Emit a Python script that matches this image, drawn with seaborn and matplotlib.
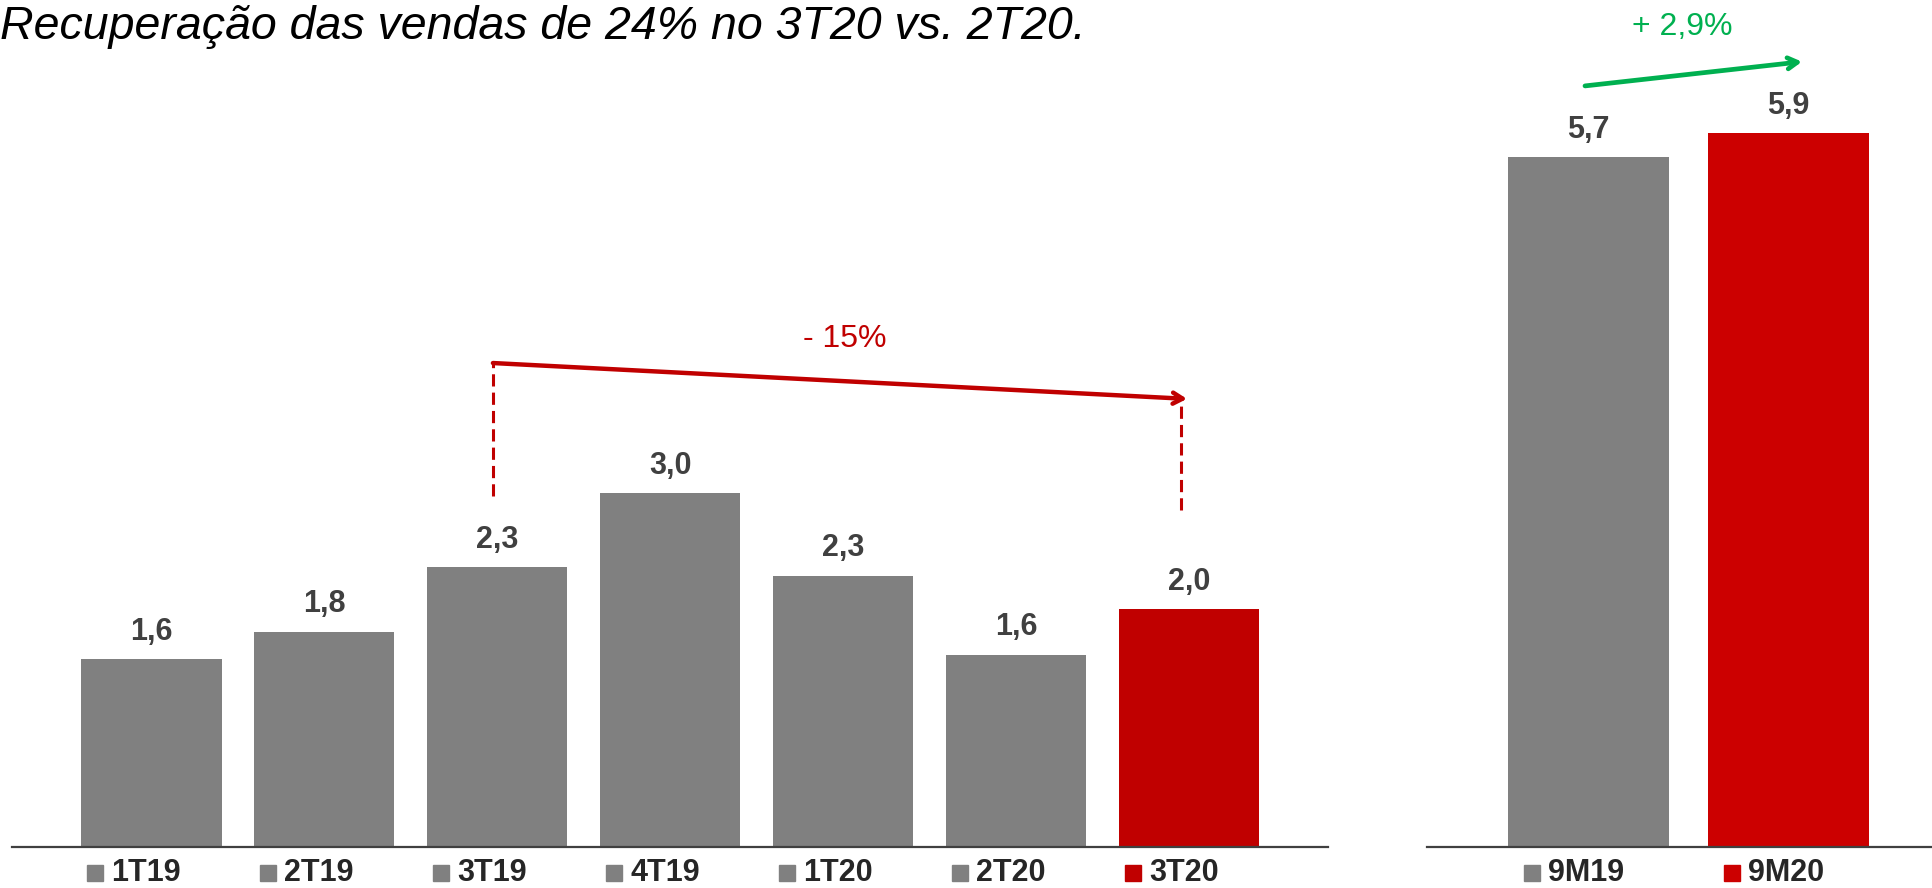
import pandas as pd
import seaborn as sns
import matplotlib.pyplot as plt
from matplotlib.transforms import ScaledTranslation

# Quarterly sales (left panel) and year-to-date sales (right panel)
quarters = ['1T19', '2T19', '3T19', '4T19', '1T20', '2T20', '3T20']
quarter_sales = [1.57, 1.80, 2.34, 2.96, 2.27, 1.61, 1.99]
quarter_colors = ['#808080'] * 6 + ['#C00000']

periods = ['9M19', '9M20']
period_sales = [5.7, 5.9]
period_colors = ['#808080', '#CC0000']

title = 'Recuperação das vendas de 24% no 3T20 vs. 2T20.'
quarter_change = '- 15%'
period_change = '+ 2,9%'

sns.set_style('white')
plt.rcParams['font.family'] = ['Liberation Sans', 'DejaVu Sans']

fig = plt.figure(figsize=(19.32, 8.88), dpi=100)
W, H = 1932, 888
ax1 = fig.add_axes([12 / W, 41 / H, 1316 / W, 847 / H])
ax2 = fig.add_axes([1427 / W, 41 / H, 505 / W, 847 / H])

df_q = pd.DataFrame({'periodo': quarters, 'vendas': quarter_sales})
df_p = pd.DataFrame({'periodo': periods, 'vendas': period_sales})

sns.barplot(data=df_q, x='periodo', y='vendas', hue='periodo', palette=quarter_colors,
            saturation=1, width=0.81, linewidth=0, legend=False, ax=ax1)
sns.barplot(data=df_p, x='periodo', y='vendas', hue='periodo', palette=period_colors,
            saturation=1, width=0.805, linewidth=0, legend=False, ax=ax2)

ax1.set_xlim(-0.806, 6.801)
ax1.set_ylim(0, 7.088)
ax2.set_xlim(-0.805, 1.72)
ax2.set_ylim(0, 7.0)


def style_axis(ax, names, values, colors):
    for side in ['top', 'right', 'left']:
        ax.spines[side].set_visible(False)
    ax.spines['bottom'].set_color('#404040')
    ax.spines['bottom'].set_linewidth(1.6)
    ax.set_xlabel('')
    ax.set_ylabel('')
    ax.set_yticks([])
    ax.set_xticks([])
    lo, hi = ax.get_xlim()
    ax.set_xticks([lo, hi], minor=True)
    ax.tick_params(axis='x', which='minor', length=5, width=1.3, color='#404040',
                   direction='out', labelbottom=False)
    ax.set_facecolor('none')
    # value labels
    for i, v in enumerate(values):
        ax.annotate(f'{v:.1f}'.replace('.', ','), xy=(i, v), xytext=(0, 14),
                    textcoords='offset points', ha='center', va='baseline',
                    fontsize=22, fontweight='bold', color='#404040')
    # legend-like category labels with coloured squares
    sq = ax.transData + ScaledTranslation(-0.56, -0.26, fig.dpi_scale_trans)
    for i, (n, c) in enumerate(zip(names, colors)):
        ax.plot(i, 0, marker='s', markersize=11.5, color=c, transform=sq, clip_on=False)
        ax.annotate(n, xy=(i, 0), xytext=(-29, -18.7), textcoords='offset points',
                    ha='left', va='center', fontsize=22, fontweight='bold',
                    color='#262626', annotation_clip=False)


style_axis(ax1, quarters, quarter_sales, quarter_colors)
style_axis(ax2, periods, period_sales, period_colors)

# -15% arrow on quarterly panel
red = '#C00000'
ax1.plot([1.974, 1.974], [2.94, 4.05], color=red, lw=2.2, ls=(0, (4, 2)))
ax1.plot([5.95, 5.95], [2.82, 3.75], color=red, lw=2.2, ls=(0, (4, 2)))
ax1.annotate('', xy=(5.986, 3.75), xytext=(1.974, 4.05),
             arrowprops=dict(arrowstyle='->,head_length=0.7,head_width=0.4',
                             color=red, lw=3.2, shrinkA=0, shrinkB=0))
ax1.text(4.01, 4.25, quarter_change, ha='center', va='center', fontsize=23, color=red)

# +2,9% arrow on 9M panel
green = '#00B050'
ax2.annotate('', xy=(1.07, 6.49), xytext=(-0.015, 6.29),
             arrowprops=dict(arrowstyle='->,head_length=0.7,head_width=0.4',
                             color=green, lw=3.4, shrinkA=0, shrinkB=0))
ax2.text(0.47, 6.78, period_change, ha='center', va='center', fontsize=23, color=green)

fig.text(0.0, 1 - 27 / H, title, ha='left', va='center', fontsize=33.5,
         fontstyle='italic', color='black')

fig.savefig('out.png', dpi=100)
